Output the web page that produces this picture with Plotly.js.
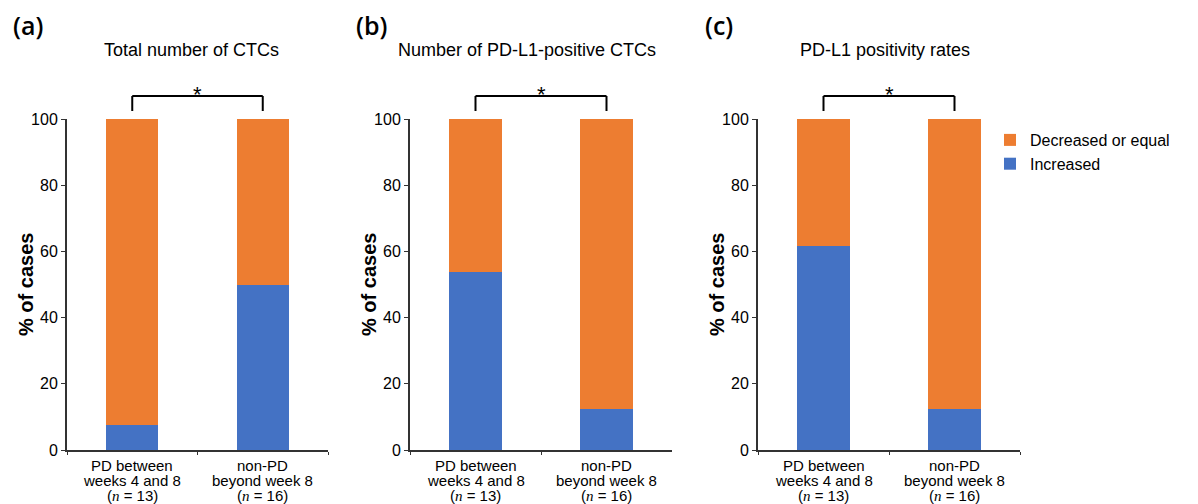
<!DOCTYPE html>
<html><head><meta charset="utf-8">
<script src="https://cdn.plot.ly/plotly-3.0.1.min.js"></script>
<style>body{margin:0;background:#fff}</style></head>
<body><div id="chart" style="width:1198px;height:504px"></div>
<script>
// ---- data ----
const categories = ["PD between weeks 4 and 8", "non-PD beyond week 8"];
const categoryLine1 = ["PD between", "non-PD"];
const categoryLine2 = ["weeks 4 and 8", "beyond week 8"];
const categoryN = [13, 16];
const panelLetters = ["(a)", "(b)", "(c)"];
const panelTitles = ["Total number of CTCs", "Number of PD-L1-positive CTCs", "PD-L1 positivity rates"];
const increasedA = [7.7, 50.0];
const decreasedA = [92.3, 50.0];
const increasedB = [53.8, 12.5];
const decreasedB = [46.2, 87.5];
const increasedC = [61.5, 12.5];
const decreasedC = [38.5, 87.5];
const significance = ["*", "*", "*"];
const yTicks = [0, 20, 40, 60, 80, 100];
const yTitle = "% of cases";

const increased = [increasedA, increasedB, increasedC];
const decreased = [decreasedA, decreasedB, decreasedC];

// ---- style ----
const ORANGE = "#ED7D31", BLUE = "#4472C4";
const FONT = "Liberation Sans, Arial, sans-serif";
const W = 1198, H = 504;
const xDomains = [[67/W, 328/W], [410/W, 672/W], [758/W, 1020/W]];
const yDomain = [(H-450)/H, (H-119)/H];
const titleShift = [-6, -14, -4];

const traces = [];
const layout = {
  width: W, height: H,
  margin: {l: 0, r: 0, t: 0, b: 0},
  paper_bgcolor: "#fff", plot_bgcolor: "#fff",
  barmode: "stack", bargap: 0.6,
  font: {family: FONT, size: 16, color: "#000"},
  showlegend: true,
  legend: {x: 990/W, y: (H-123)/H, xanchor: "left", yanchor: "top", traceorder: "reversed",
           font: {size: 16, family: FONT}, tracegroupgap: 0, bgcolor: "rgba(0,0,0,0)",
           itemwidth: 30},
  annotations: [], shapes: []
};

for (let k = 0; k < 3; k++) {
  const xa = "x" + (k ? k + 1 : ""), ya = "y" + (k ? k + 1 : "");
  const xkey = "xaxis" + (k ? k + 1 : ""), ykey = "yaxis" + (k ? k + 1 : "");
  traces.push({type: "bar", x: categories, y: increased[k], xaxis: xa, yaxis: ya,
    name: "Increased", legendgroup: "inc", showlegend: k === 0,
    marker: {color: BLUE, line: {width: 0}}, hoverinfo: "y"});
  traces.push({type: "bar", x: categories, y: decreased[k], xaxis: xa, yaxis: ya,
    name: "Decreased or equal", legendgroup: "dec", showlegend: k === 0,
    marker: {color: ORANGE, line: {width: 0}}, hoverinfo: "y"});

  layout[xkey] = {domain: xDomains[k], anchor: ya, type: "category",
    categoryarray: categories, range: [-0.5, 1.5],
    showline: true, linecolor: "#333", linewidth: 2,
    ticks: "outside", tickson: "boundaries", ticklen: 3, tickcolor: "#333",
    showticklabels: false, showgrid: false, zeroline: false, fixedrange: true};
  layout[ykey] = {domain: yDomain, anchor: xa, range: [0, 100],
    tickvals: yTicks, ticks: "outside", ticklen: 4, tickcolor: "#333",
    showline: true, linecolor: "#333", linewidth: 2,
    showgrid: false, zeroline: false, fixedrange: true,
    tickfont: {size: 16, family: FONT, color: "#000"}};

  // y-axis title
  layout.annotations.push({text: "<b>" + yTitle + "</b>", textangle: -90,
    x: xDomains[k][0], y: 50, xref: "paper", yref: ya, xanchor: "center", yanchor: "middle",
    xshift: -41.5, showarrow: false, font: {size: 20, family: FONT, color: "#000"}});

  // category labels, line by line
  for (let i = 0; i < categories.length; i++) {
    const lines = [categoryLine1[i], categoryLine2[i],
      "(<span style=\"font-family:'Liberation Serif',serif;font-style:italic\">n</span> = " + categoryN[i] + ")"];
    const shifts = [-15, -30, -45];
    lines.forEach((t, j) => layout.annotations.push({
      text: t, x: i, y: 0, xref: xa, yref: ya, xanchor: "center", yanchor: "middle",
      yshift: shifts[j], borderpad: 0, showarrow: false, font: {size: 15, family: FONT, color: "#000"}}));
  }

  // panel title & letter
  const cx = (xDomains[k][0] + xDomains[k][1]) / 2;
  layout.annotations.push({text: panelTitles[k], x: cx, y: (H - 50) / H, xref: "paper", yref: "paper",
    xanchor: "center", yanchor: "middle", xshift: titleShift[k], showarrow: false,
    font: {size: 18, family: FONT}});
  layout.annotations.push({text: panelLetters[k], x: xDomains[k][0], y: (H - 25) / H, xref: "paper", yref: "paper",
    xanchor: "center", yanchor: "middle", xshift: -39, showarrow: false,
    font: {size: 25, family: "Open Sans, sans-serif", weight: 600}});

  // significance bracket
  const yTop = (H - 96) / H, yBot = (H - 111) / H;
  const ln = {color: "#000", width: 2};
  layout.shapes.push({type: "line", xref: xa, yref: "paper", x0: 0, x1: 1, y0: yTop, y1: yTop, line: ln});
  layout.shapes.push({type: "line", xref: xa, yref: "paper", x0: 0, x1: 0, y0: yTop, y1: yBot, line: ln});
  layout.shapes.push({type: "line", xref: xa, yref: "paper", x0: 1, x1: 1, y0: yTop, y1: yBot, line: ln});
  layout.annotations.push({text: significance[k], x: 0.5, y: (H - 94) / H, xref: xa, yref: "paper",
    xanchor: "center", yanchor: "middle", showarrow: false, font: {size: 22, family: FONT}});
}

Plotly.newPlot("chart", traces, layout, {displayModeBar: false, staticPlot: true});
</script></body></html>
